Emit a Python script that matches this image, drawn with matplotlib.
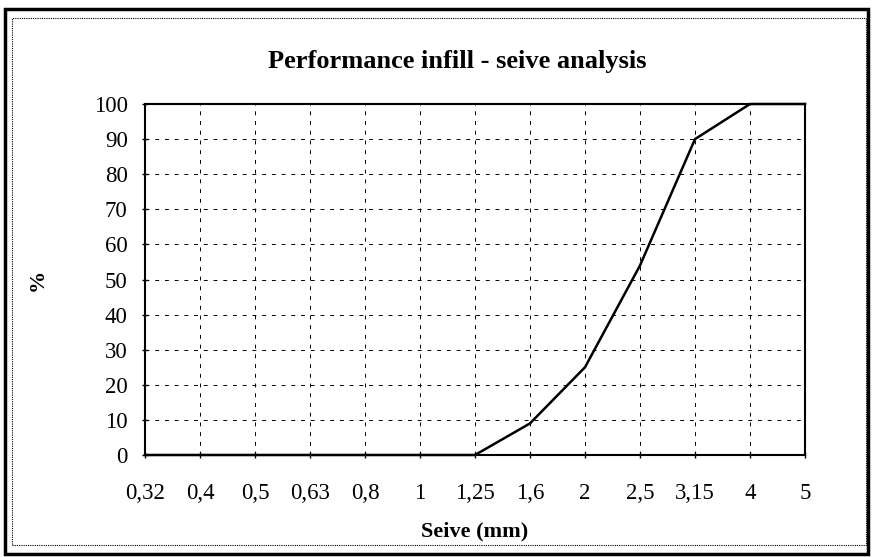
import matplotlib.pyplot as plt
from matplotlib.patches import Rectangle

# seive sizes (mm) as shown on the axis, and % passing
seive_labels = ["0,32", "0,4", "0,5", "0,63", "0,8", "1", "1,25",
                "1,6", "2", "2,5", "3,15", "4", "5"]
passing = [0, 0, 0, 0, 0, 0, 0, 9, 25, 54, 90, 100, 100]
y_ticks = [0, 10, 20, 30, 40, 50, 60, 70, 80, 90, 100]


def main():
    plt.rcParams['font.family'] = ['Liberation Serif', 'DejaVu Serif']
    fig = plt.figure(figsize=(8.72, 5.57), dpi=100)
    ax = fig.add_axes([145 / 872, 1 - 455 / 557, 660 / 872, 351 / 557])

    xs = list(range(len(seive_labels)))
    ax.plot(xs, passing, color='black', linewidth=1.8, clip_on=False, zorder=3)

    ax.set_xlim(0, len(seive_labels) - 1)
    ax.set_ylim(0, 100)
    ax.set_xticks(xs)
    ax.set_xticklabels(seive_labels)
    ax.set_yticks(y_ticks)
    ax.tick_params(axis='both', labelsize=16.5, direction='inout', length=5,
                   width=1, colors='black')
    ax.tick_params(axis='x', pad=18)
    ax.tick_params(axis='y', pad=10)
    ax.grid(True, color='black', linestyle=(0, (4, 6)), linewidth=0.7)

    for s in ax.spines.values():
        s.set_linewidth(1.5)
        s.set_color('black')

    ax.set_title("Performance infill - seive analysis", fontsize=19,
                 fontweight='bold', pad=26, x=0.473)
    ax.set_xlabel("Seive (mm)", fontsize=16, fontweight='bold', labelpad=12)
    ax.set_ylabel("%", fontsize=16, fontweight='bold')
    ax.yaxis.set_label_coords(-0.148, 0.5)

    # outer frames of the chart area
    fig.patches.append(Rectangle((5 / 872, 1 - 554 / 557), 863 / 872, 545 / 557,
                                 transform=fig.transFigure, fill=False,
                                 edgecolor='black', linewidth=2.5))
    fig.patches.append(Rectangle((12 / 872, 1 - 545 / 557), 854 / 872, 527 / 557,
                                 transform=fig.transFigure, fill=False,
                                 edgecolor='black', linewidth=0.8,
                                 linestyle=(0, (1, 1))))

    fig.savefig("out.png", dpi=100)


if __name__ == "__main__":
    main()
